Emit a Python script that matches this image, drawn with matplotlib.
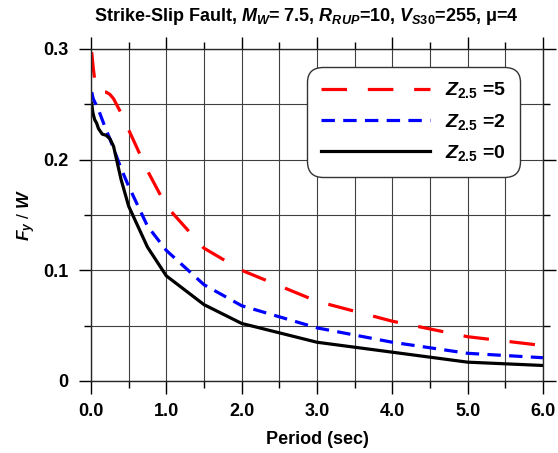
import matplotlib
matplotlib.use("Agg")
import matplotlib.pyplot as plt
from matplotlib.ticker import MultipleLocator, FixedFormatter, FixedLocator

plt.rcParams['font.family'] = ['Liberation Sans', 'DejaVu Sans']
plt.rcParams['font.weight'] = 'bold'
plt.rcParams['mathtext.fontset'] = 'custom'
plt.rcParams['mathtext.rm'] = 'Liberation Sans:bold'
plt.rcParams['mathtext.it'] = 'Liberation Sans:italic:bold'
plt.rcParams['mathtext.bf'] = 'Liberation Sans:bold'

# periods (sec)
period = [0.01, 0.02, 0.03, 0.05, 0.075, 0.1, 0.15, 0.2, 0.25, 0.3, 0.4, 0.5,
          0.75, 1.0, 1.5, 2.0, 3.0, 4.0, 5.0, 6.0]
# Fy/W for each sediment depth
z5 = [0.297, 0.290, 0.283, 0.272, 0.265, 0.262, 0.261, 0.261, 0.259, 0.255, 0.242, 0.227,
      0.190, 0.158, 0.120, 0.100, 0.072, 0.054, 0.040, 0.032]
z2 = [0.261, 0.258, 0.255, 0.252, 0.249, 0.245, 0.236, 0.227, 0.219, 0.210, 0.192, 0.176,
      0.140, 0.118, 0.087, 0.068, 0.048, 0.035, 0.025, 0.021]
z0 = [0.251, 0.245, 0.241, 0.236, 0.233, 0.228, 0.223, 0.222, 0.219, 0.212, 0.182, 0.158,
      0.121, 0.095, 0.069, 0.052, 0.035, 0.026, 0.017, 0.014]

xticks = [0, 1, 2, 3, 4, 5, 6]
xlabels = ['0.0', '1.0', '2.0', '3.0', '4.0', '5.0', '6.0']
yticks = [0, 0.1, 0.2, 0.3]
ylabels = ['0', '0.1', '0.2', '0.3']

fig = plt.figure(figsize=(5.58, 4.53), dpi=100)
ax = fig.add_axes([0.163, 0.159, 0.810, 0.733])

ax.plot(period, z5, color='red', lw=2.3, dashes=(8, 6.5), label=r'$Z_{2.5}$ =5')
ax.plot(period, z2, color='blue', lw=2.3, dashes=(4.2, 2.6), label=r'$Z_{2.5}$ =2')
ax.plot(period, z0, color='black', lw=2.3, label=r'$Z_{2.5}$ =0')

ax.set_xlim(0, 6)
ax.set_ylim(0, 0.3)
ax.xaxis.set_major_locator(FixedLocator(xticks))
ax.xaxis.set_major_formatter(FixedFormatter(xlabels))
ax.xaxis.set_minor_locator(MultipleLocator(0.5))
ax.yaxis.set_major_locator(FixedLocator(yticks))
ax.yaxis.set_major_formatter(FixedFormatter(ylabels))
ax.yaxis.set_minor_locator(MultipleLocator(0.05))

ax.grid(True, which='both', color='0.25', lw=0.8)
ax.tick_params(which='both', direction='out', top=True, right=True, width=1.0,
               labelsize=13, color='black')
ax.tick_params(which='major', length=9, pad=7)
ax.tick_params(which='minor', length=5)
for s in ax.spines.values():
    s.set_linewidth(1.0)
    s.set_color('0.15')

ax.set_xlabel('Period (sec)', fontsize=13, fontweight='bold', labelpad=8)
ax.set_ylabel(r'$F_y$ / $W$', fontsize=12.5, labelpad=4)
ax.set_title(r'Strike-Slip Fault, $M_W$= 7.5, $R_{RUP}$=10, $V_{S30}$=255, μ=4',
             fontsize=13, fontweight='bold', pad=20, x=0.476)

leg = ax.legend(loc='upper right', bbox_to_anchor=(0.949, 0.946), borderaxespad=0,
                fontsize=14, handlelength=5.6, handletextpad=0.8, labelspacing=0.58,
                borderpad=0.7, frameon=True, fancybox=True, framealpha=1,
                edgecolor='0.2')
leg.get_frame().set_linewidth(1.0)
leg.get_frame().set_boxstyle('round', pad=0, rounding_size=0.8)

fig.savefig('out.png', dpi=100)
